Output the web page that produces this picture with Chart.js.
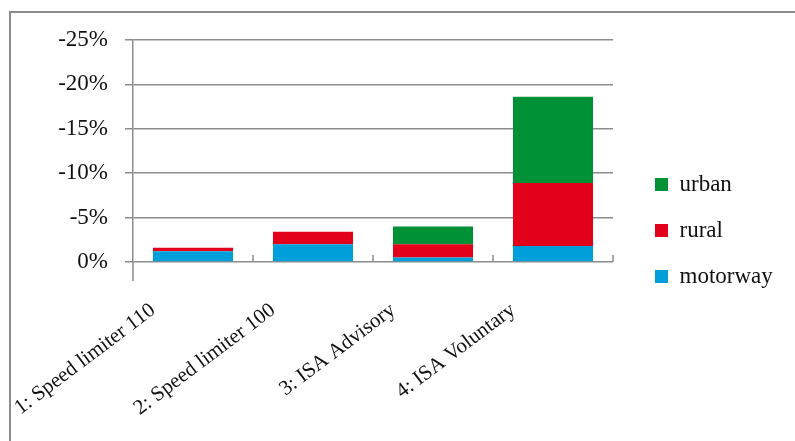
<!DOCTYPE html>
<html lang="en">

<head>
    <meta charset="UTF-8">
    <title>Speed reduction by road type</title>
    <script src="https://cdn.jsdelivr.net/npm/chart.js"></script>
    <style>
        html, body { margin: 0; padding: 0; background: #fff; }
        #wrap { width: 795px; height: 441px; }
    </style>
</head>

<body>
    <div id="wrap"><canvas id="speedChart"></canvas></div>

    <script>
        // Data (negative = reduction)
        const categories = ['1: Speed limiter 110', '2: Speed limiter 100', '3: ISA Advisory', '4: ISA Voluntary'];
        const motorway = [-1.2, -2.0, -0.5, -1.8];
        const rural = [-0.4, -1.4, -1.5, -7.1];
        const urban = [0, 0, -2.0, -9.7];
        const yTicks = [0, -5, -10, -15, -20, -25];

        const gridColor = '#8c8c8c';
        const textColor = '#111';
        const fontFamily = '"Liberation Serif", "DejaVu Serif", serif';

        // Frame, axis extension, category ticks, legend placement
        const decorations = {
            id: 'decorations',
            beforeUpdate(chart) {
                const lg = chart.legend;
                if (lg && !lg._fixed) {
                    const fit = lg.fit.bind(lg);
                    lg.fit = function () { fit(); this.width = 182; };
                    const draw = lg.draw.bind(lg);
                    lg.draw = function () {
                        const c = this.ctx;
                        c.save();
                        c.translate(19, -10);
                        draw();
                        c.restore();
                    };
                    lg._fixed = true;
                }
            },
            beforeDraw(chart) {
                const ctx = chart.ctx;
                ctx.save();
                ctx.strokeStyle = '#8c8c8c';
                ctx.lineWidth = 2;
                ctx.beginPath();
                ctx.moveTo(10, 441);
                ctx.lineTo(10, 12);
                ctx.lineTo(795, 12);
                ctx.stroke();
                ctx.restore();
            },
            afterDatasetsDraw(chart) {
                const ctx = chart.ctx;
                const area = chart.chartArea;
                const x = chart.scales.x;
                const half = (x.getPixelForValue(1) - x.getPixelForValue(0)) / 2;
                ctx.save();
                ctx.strokeStyle = gridColor;
                ctx.lineWidth = 1.5;
                ctx.beginPath();
                ctx.moveTo(area.left, area.bottom);
                ctx.lineTo(area.left, area.bottom + 19);
                for (let i = 0; i < categories.length; i++) {
                    const bx = Math.round(x.getPixelForValue(i) + half);
                    ctx.moveTo(bx, area.bottom);
                    ctx.lineTo(bx, area.bottom - 7);
                }
                ctx.stroke();
                ctx.restore();
            }
        };

        const ctx = document.getElementById('speedChart').getContext('2d');
        const speedChart = new Chart(ctx, {
            type: 'bar',
            data: {
                labels: categories,
                datasets: [
                    { label: 'motorway', data: motorway, backgroundColor: '#009fda' },
                    { label: 'rural', data: rural, backgroundColor: '#e2001a' },
                    { label: 'urban', data: urban, backgroundColor: '#009036' }
                ]
            },
            options: {
                responsive: true,
                maintainAspectRatio: false,
                animation: false,
                datasets: {
                    bar: { barPercentage: 1, categoryPercentage: 0.667 }
                },
                layout: {
                    padding: { left: 0, top: 40, right: 0, bottom: 0 }
                },
                plugins: {
                    tooltip: { enabled: false },
                    legend: {
                        position: 'right',
                        reverse: true,
                        labels: {
                            boxWidth: 13,
                            boxHeight: 13,
                            padding: 23,
                            color: textColor,
                            font: { family: fontFamily, size: 23 }
                        }
                    }
                },
                scales: {
                    x: {
                        stacked: true,
                        grid: { display: false },
                        border: { display: false },
                        ticks: {
                            color: textColor,
                            font: { family: fontFamily, size: 21 },
                            minRotation: 37,
                            maxRotation: 37,
                            padding: 28,
                            labelOffset: -40,
                            autoSkip: false
                        },
                        afterFit(scale) { scale.height = 179; }
                    },
                    y: {
                        stacked: true,
                        reverse: true,
                        min: -25,
                        max: 0,
                        afterBuildTicks(scale) {
                            scale.ticks = yTicks.map(v => ({ value: v }));
                        },
                        grid: {
                            color: gridColor,
                            lineWidth: 1.5,
                            tickLength: 8
                        },
                        border: { color: gridColor, width: 1.5 },
                        ticks: {
                            color: textColor,
                            padding: 17,
                            font: { family: fontFamily, size: 23 },
                            callback: v => (v === 0 ? '0%' : '-' + Math.abs(v) + '%')
                        },
                        afterFit(scale) { scale.width = 133; }
                    }
                }
            },
            plugins: [decorations]
        });
    </script>
</body>

</html>
